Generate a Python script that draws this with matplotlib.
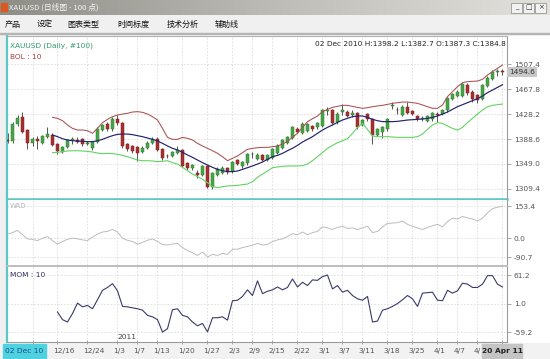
import matplotlib
matplotlib.use("Agg")
import matplotlib.pyplot as plt
import matplotlib.transforms as mtransforms
from matplotlib.patches import Rectangle
import numpy as np

W, H = 550, 359

# ---- data (daily XAUUSD, 02 Dec 2010 .. 20 Apr 2011) ----
opens = [1387.3, 1385, 1413, 1423, 1403, 1382, 1388, 1383, 1392, 1395,
         1380, 1368, 1376, 1387, 1387, 1388, 1381, 1375, 1384, 1403,
         1413, 1404, 1420, 1414, 1380, 1377, 1376, 1368, 1374, 1382,
         1389, 1373, 1362, 1362, 1366, 1371, 1350, 1342, 1334, 1332,
         1345, 1313, 1332, 1335, 1342, 1337, 1355, 1345, 1350, 1364,
         1357, 1363, 1356, 1359, 1366, 1374, 1382, 1390, 1405, 1398,
         1402, 1409, 1407, 1409, 1433, 1434, 1415, 1432, 1432, 1427,
         1430, 1411, 1428, 1420, 1395, 1400, 1404, 1441, 1435, 1427,
         1439, 1433, 1425, 1420, 1418, 1420, 1428, 1428, 1434, 1453,
         1457, 1457, 1474, 1463, 1458, 1453, 1473, 1484, 1495, 1496]
highs = [1398.2, 1416, 1426, 1431, 1405, 1392, 1393, 1395, 1408, 1398,
         1382, 1378, 1389, 1392, 1391, 1390, 1386, 1386, 1407, 1413,
         1415, 1423, 1427, 1416, 1382, 1379, 1378, 1377, 1385, 1392,
         1392, 1375, 1365, 1370, 1377, 1373, 1352, 1349, 1339, 1347,
         1347, 1336, 1344, 1346, 1344, 1354, 1357, 1354, 1366, 1368,
         1366, 1365, 1365, 1375, 1380, 1389, 1393, 1409, 1408, 1415,
         1414, 1411, 1416, 1436, 1440, 1437, 1431, 1445, 1435, 1434,
         1432, 1421, 1430, 1422, 1406, 1409, 1422, 1447, 1440, 1442,
         1448, 1435, 1427, 1425, 1427, 1432, 1432, 1436, 1456, 1462,
         1466, 1478, 1477, 1466, 1460, 1476, 1488, 1498, 1500, 1500]
lows = [1382.7, 1383, 1410, 1398, 1372, 1377, 1372, 1381, 1390, 1377,
        1364, 1366, 1374, 1381, 1382, 1378, 1379, 1371, 1383, 1401,
        1402, 1402, 1411, 1375, 1369, 1366, 1353, 1366, 1372, 1380,
        1369, 1356, 1358, 1360, 1364, 1344, 1340, 1340, 1326, 1330,
        1310, 1309, 1329, 1333, 1333, 1335, 1347, 1343, 1348, 1358,
        1355, 1354, 1354, 1357, 1364, 1372, 1380, 1388, 1398, 1396,
        1400, 1402, 1405, 1407, 1427, 1411, 1413, 1427, 1423, 1424,
        1405, 1409, 1418, 1381, 1393, 1390, 1402, 1437, 1428, 1425,
        1428, 1426, 1418, 1417, 1416, 1418, 1415, 1426, 1432, 1451,
        1455, 1455, 1459, 1448, 1446, 1451, 1471, 1482, 1489, 1490]
closes = [1384.8, 1413, 1422, 1400, 1383, 1388, 1386, 1393, 1396, 1379,
          1370, 1376, 1387, 1388, 1384, 1380, 1383, 1384, 1405, 1411,
          1404, 1421, 1414, 1377, 1372, 1369, 1366, 1375, 1383, 1388,
          1371, 1358, 1361, 1368, 1371, 1346, 1342, 1347, 1332, 1345,
          1313, 1334, 1341, 1343, 1336, 1352, 1349, 1352, 1364, 1365,
          1363, 1356, 1363, 1372, 1377, 1387, 1391, 1407, 1400, 1413,
          1412, 1404, 1414, 1434, 1434, 1414, 1429, 1434, 1425, 1430,
          1407, 1419, 1420, 1395, 1404, 1407, 1420, 1442, 1434, 1439,
          1430, 1428, 1420, 1422, 1425, 1430, 1426, 1434, 1454, 1460,
          1463, 1476, 1461, 1452, 1450, 1474, 1486, 1495, 1496, 1494.6]

bol_start = 9
bol_upper = [1423.0, 1421.5, 1417.7, 1410.9, 1405.5, 1402.9, 1402.9, 1401.8, 1397.6, 1405.5,
             1414.6, 1419.9, 1424.1, 1426.8, 1428.3, 1429.4, 1431.5, 1432.1, 1431.0, 1428.3,
             1424.1, 1418.8, 1405.5, 1391.2, 1388.1, 1388.1, 1391.2, 1389.7, 1387.0, 1381.7,
             1377.5, 1373.8, 1370.0, 1365.8, 1360.5, 1354.1, 1357.9, 1361.6, 1366.9, 1372.2,
             1373.8, 1374.8, 1375.3, 1375.3, 1376.4, 1377.5, 1380.6, 1384.9, 1391.2, 1397.6,
             1407.1, 1416.2, 1420.9, 1425.2, 1432.1, 1435.8, 1438.9, 1440.5, 1442.1, 1442.1,
             1440.5, 1438.9, 1437.4, 1438.4, 1440.0, 1441.1, 1442.1, 1443.7, 1445.3, 1446.4,
             1447.4, 1447.4, 1446.4, 1445.3, 1442.7, 1440.0, 1437.4, 1437.4, 1442.7, 1456.0,
             1464.0, 1471.8, 1478.2, 1479.8, 1480.3, 1480.8, 1483.5, 1490.4, 1495.7, 1501.0,
             1506.3]
bol_mid = [1395.0, 1392.3, 1389.1, 1387.0, 1385.9, 1385.4, 1384.9, 1384.4, 1384.4, 1385.9,
           1388.1, 1391.2, 1393.9, 1396.0, 1396.5, 1396.5, 1395.5, 1393.9, 1392.3, 1390.2,
           1388.1, 1385.4, 1381.7, 1377.5, 1373.8, 1371.1, 1367.4, 1363.2, 1359.4, 1355.2,
           1351.0, 1347.3, 1343.5, 1340.4, 1338.2, 1336.7, 1336.7, 1337.7, 1340.4, 1343.0,
           1345.7, 1348.8, 1352.0, 1356.3, 1360.5, 1362.6, 1365.8, 1370.0, 1373.8, 1378.5,
           1383.8, 1388.1, 1392.3, 1397.6, 1402.9, 1407.1, 1410.9, 1415.1, 1418.8, 1421.5,
           1424.1, 1425.2, 1425.2, 1423.0, 1419.9, 1417.7, 1416.2, 1416.2, 1416.2, 1416.7,
           1417.7, 1418.8, 1419.3, 1419.9, 1420.4, 1421.5, 1423.0, 1425.2, 1428.3, 1431.5,
           1435.8, 1440.0, 1443.2, 1446.4, 1449.5, 1452.7, 1457.0, 1462.3, 1466.5, 1470.7,
           1475.0]
bol_lower = [1366.9, 1367.4, 1368.5, 1369.5, 1370.0, 1370.0, 1369.5, 1369.0, 1367.9, 1366.3,
             1365.3, 1365.8, 1365.3, 1364.2, 1362.6, 1360.5, 1357.9, 1355.2, 1354.1, 1354.1,
             1353.6, 1352.6, 1353.1, 1354.1, 1351.0, 1348.8, 1343.5, 1338.2, 1332.9, 1328.7,
             1324.5, 1319.2, 1312.8, 1311.2, 1312.8, 1313.9, 1314.4, 1314.9, 1316.0, 1317.0,
             1320.8, 1327.6, 1332.9, 1337.7, 1343.0, 1344.1, 1345.1, 1345.7, 1345.7, 1345.7,
             1346.2, 1348.8, 1354.1, 1360.5, 1366.9, 1373.8, 1378.5, 1382.8, 1385.9, 1389.1,
             1397.6, 1407.1, 1413.5, 1404.0, 1393.4, 1392.3, 1392.3, 1392.3, 1391.8, 1391.2,
             1391.2, 1391.2, 1391.2, 1392.3, 1396.5, 1404.0, 1410.9, 1414.6, 1413.5, 1409.3,
             1405.5, 1402.9, 1407.1, 1414.6, 1421.5, 1428.3, 1434.7, 1440.0, 1442.1, 1443.2,
             1444.2]

wad = [20, 27, 38, 17, -3, -6, -11, 0, 8, -11,
       -28, -16, -5, 0, -3, -8, -11, 5, 20, 30,
       33, 43, 30, 0, -10, -16, -28, -20, -10, -3,
       -16, -30, -33, -28, -25, -45, -60, -70, -83, -67,
       -90.7, -78, -83, -73, -78, -53, -53, -45, -40, -33,
       -25, -33, -30, -16, -8, -3, 8, 22, 17, 30,
       17, 27, 33, 55, 50, 42, 52, 58, 47, 50,
       42, 50, 58, 27, 33, 55, 72, 73, 75, 83,
       67, 58, 50, 42, 52, 60, 67, 55, 80, 97,
       93, 105, 98, 93, 83, 97, 122, 143, 150, 153.4]

mom_start = 10
mom = [-17, -33, -38, -20, 2, -6, -3, -10, 9, 29,
       35, 43, 28, -5, -6, -8, -10, -13, -24, -27,
       -33, -59.2, -52, -12, -10, -24, -27, -38, -46, -41,
       -59, -29, -29, -27, -34, 7, 8, 16, 30, 18,
       49, 22, 27, 30, 36, 30, 35, 53, 36, 46,
       39, 51, 50, 58, 61.2, 32, 39, 25, 29, 18,
       11, 8, 16, -38, -36, -13, -10, -5, 1, 9,
       18, 11, -5, 23, 24, 25, 8, 7, 29, 23,
       28, 44, 42, 35, 35, 42, 60, 60, 42, 36]

tick_idx = [5, 10, 16, 22, 26, 30, 35, 40, 45, 49, 53, 58, 63, 67, 71, 76, 81, 86, 90, 94, 99]
tick_labels = ["", "12/16", "12/24", "1/3", "1/7", "1/13", "1/20", "1/27", "2/3", "2/9",
               "2/15", "2/22", "3/1", "3/7", "3/11", "3/18", "3/25", "4/1", "4/7", "4/", ""]
price_ticks = [1309.4, 1349.0, 1388.6, 1428.2, 1467.8, 1507.4]
wad_ticks = [-90.7, 0.0, 153.4]
mom_ticks = [-59.2, 1.0, 61.2]

TEAL = "#5cc8c4"
GRID = "#dcdcdc"
AXIS = "#9a9a9a"
TXT = "#555555"
CJK = ["Noto Sans CJK SC", "DejaVu Sans"]


def fx(x):
    return x / W


def fy(y):
    return 1 - y / H


def fig_rect(fig, x0, y0, x1, y1, **kw):
    fig.add_artist(Rectangle((fx(x0), fy(y1)), (x1 - x0) / W, (y1 - y0) / H,
                             transform=fig.transFigure, **kw))


def panel(fig, top, bottom):
    return fig.add_axes([fx(7), fy(bottom), 500 / W, (bottom - top) / H])


fig = plt.figure(figsize=(W / 100, H / 100), dpi=100)
fig.patch.set_facecolor("#ffffff")

# window chrome: title bar + menu
tb = fig.add_axes([0, fy(15), 1, 15 / H])
tb.imshow(np.linspace(0, 1, 256)[None, :], cmap=matplotlib.colors.LinearSegmentedColormap.from_list(
    "tb", ["#8e8d86", "#bdbcb6", "#e2e1dc"]), aspect="auto", extent=(0, 1, 0, 1))
tb.set_axis_off()
fig_rect(fig, 1, 3, 7, 11, color="#d85a20", zorder=5)
fig.text(fx(9), fy(7.5), "XAUUSD (日线图 - 100 点)", family=CJK, fontsize=5.6,
         color="#f4f4f4", va="center")
for bx, sym in [(511, "_"), (523, "□"), (535, "×")]:
    fig_rect(fig, bx, 2.5, bx + 11, 13, facecolor="#f2f2f2", edgecolor="#8a8a8a", lw=0.5, zorder=5)
    fig.text(fx(bx + 5.5), fy(7.5), sym, fontsize=5, color="#333", ha="center", va="center", zorder=6)

fig_rect(fig, 0, 15, W, 34, color="#f0f0f0", zorder=0)
fig_rect(fig, 0, 33.5, W, 34.2, color="#b4b4b4", zorder=1)
menu = [(5, "产品"), (37, "设定"), (67, "图表类型"), (117, "时间标度"), (167, "技术分析"), (215, "辅助线")]
for mx, label in menu:
    fig.text(fx(mx), fy(24.5), label, family=CJK, fontsize=5.8, color="#111", va="center")
fig_rect(fig, 0, 34, 5, H, color="#f0f0f0", zorder=0)
fig_rect(fig, 0, 343, W, H, color="#f2f2f2", zorder=0)

ax_p = panel(fig, 36, 199)
ax_w = panel(fig, 200, 264.5)
ax_m = panel(fig, 265.5, 341.7)

x = np.arange(len(closes))
for ax in (ax_p, ax_w, ax_m):
    ax.set_xlim(-0.1, 99.9)
    ax.set_facecolor("white")
    ax.yaxis.tick_right()
    ax.set_xticks(tick_idx)
    ax.grid(True, color=GRID, linestyle=(0, (2, 2)), linewidth=0.6)
    ax.set_axisbelow(True)
    ax.tick_params(axis="y", direction="out", length=3, width=0.6, color=AXIS,
                   labelsize=5.4, labelcolor=TXT, pad=2)
    ax.tick_params(axis="x", length=0, labelbottom=False)
    for s in ("top", "bottom"):
        ax.spines[s].set_visible(False)
    ax.spines["left"].set_color(TEAL)
    ax.spines["left"].set_linewidth(1.6)
    ax.spines["right"].set_color(AXIS)
    ax.spines["right"].set_linewidth(0.8)

# ---- price panel: candles + bollinger ----
o, h, l, c = map(np.array, (opens, highs, lows, closes))
up = c >= o
ax_p.vlines(x, l, h, color="#3a3a3a", linewidth=0.6, zorder=2)
body_lo = np.minimum(o, c)
body_h = np.maximum(np.abs(c - o), 0.9)
ax_p.bar(x[up], body_h[up], bottom=body_lo[up], width=0.62, color="#46a646",
         edgecolor="#2f7f2f", linewidth=0.35, zorder=3)
ax_p.bar(x[~up], body_h[~up], bottom=body_lo[~up], width=0.62, color="#a8302e",
         edgecolor="#7c1f1f", linewidth=0.35, zorder=3)
bx = np.arange(bol_start, bol_start + len(bol_mid))
ax_p.plot(bx, bol_upper, color="#a85050", linewidth=0.75, zorder=4)
ax_p.plot(bx, bol_mid, color="#22226e", linewidth=0.85, zorder=4)
ax_p.plot(bx, bol_lower, color="#62d462", linewidth=0.8, zorder=4)
ax_p.set_ylim(1293.2, 1552.4)
ax_p.set_yticks(price_ticks, [f"{v:.1f}" for v in price_ticks])
ax_p.spines["top"].set_visible(True)
ax_p.spines["top"].set_color("#b0b0b0")
ax_p.spines["bottom"].set_visible(True)
ax_p.spines["bottom"].set_color(TEAL)
ax_p.spines["bottom"].set_linewidth(1.8)
ax_p.text(0.006, 0.94, "XAUUSD (Daily, #100)", transform=ax_p.transAxes,
          fontsize=5.3, color="#2f9a6a", va="center")
ax_p.text(0.006, 0.872, "BOL : 10", transform=ax_p.transAxes,
          fontsize=5.3, color="#a83838", va="center")
ax_p.text(0.998, 0.953, "02 Dec 2010 H:1398.2 L:1382.7 O:1387.3 C:1384.8",
          transform=ax_p.transAxes, fontsize=5.3, color="#222", ha="right", va="center")
blend = mtransforms.blended_transform_factory(ax_p.transAxes, ax_p.transData)
ax_p.text(1.004, closes[-1], f"{closes[-1]:.1f}", transform=blend, fontsize=5.4,
          color="#333", va="center", ha="left", clip_on=False, zorder=10,
          bbox=dict(boxstyle="square,pad=0.25", facecolor="#c8c8c8", edgecolor="none"))

# ---- WAD panel ----
ax_w.plot(x, wad, color="#bcbcbc", linewidth=0.7)
ax_w.set_ylim(-126.8, 184.5)
ax_w.set_yticks(wad_ticks, [f"{v:.1f}" for v in wad_ticks])
ax_w.text(0.006, 0.9, "WAD", transform=ax_w.transAxes, fontsize=5, color="#b8b8b8", va="center")

# ---- MOM panel ----
mx_ = np.arange(mom_start, mom_start + len(mom))
ax_m.plot(mx_, mom, color="#3a3a6c", linewidth=0.8)
ax_m.set_ylim(-79.6, 81.4)
ax_m.set_yticks(mom_ticks, [f"{v:.1f}" for v in mom_ticks])
ax_m.spines["top"].set_visible(True)
ax_m.spines["top"].set_color("#bdbdbd")
ax_m.spines["top"].set_linewidth(1.4)
ax_m.spines["bottom"].set_visible(True)
ax_m.spines["bottom"].set_color(AXIS)
ax_m.spines["bottom"].set_linewidth(0.8)
ax_m.text(0.006, 0.87, "MOM : 10", transform=ax_m.transAxes, fontsize=5.3,
          color="#2e2e60", va="center")
ax_m.text(22, -70, "2011", fontsize=5.4, color="#444", va="center")

ax_m.tick_params(axis="x", length=3, width=0.6, color=AXIS, direction="inout",
                 labelbottom=True, labelsize=5.4, labelcolor=TXT, pad=3)
ax_m.set_xticklabels(tick_labels)
shift = mtransforms.ScaledTranslation(-4 / 100, 0, fig.dpi_scale_trans)
for lab in ax_m.get_xticklabels():
    lab.set_ha("left")
    lab.set_transform(lab.get_transform() + shift)

# highlighted first / last date boxes
fig_rect(fig, 3, 344, 45.5, 358, color="#4fd2e0", zorder=8)
fig.text(fx(24), fy(351.3), "02 Dec 10", fontsize=5.4, color="#1f4f8f",
         ha="center", va="center", zorder=9)
fig_rect(fig, 482, 344, 522, 358, color="#c4c4c4", zorder=8)
fig.text(fx(502), fy(351.3), "20 Apr 11", fontsize=5.4, color="#222", weight="bold",
         ha="center", va="center", zorder=9)

fig.savefig("out.png", dpi=100)
